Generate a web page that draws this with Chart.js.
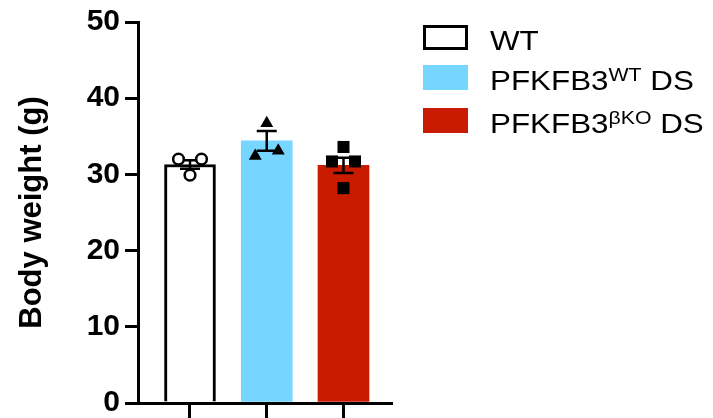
<!DOCTYPE html>
<html>
<head>
<meta charset="utf-8">
<script src="https://cdn.jsdelivr.net/npm/chart.js@4.4.1/dist/chart.umd.min.js"></script>
<style>
body { margin: 0; background: #fff; }
#wrap { position: relative; width: 713px; height: 418px; overflow: hidden; }
canvas { display: block; }
.legend { position: absolute; left: 423px; top: 0; font-family: "Liberation Sans", Arial, sans-serif; font-size: 28px; color: #000; }
.row { position: absolute; left: 0; height: 25px; display: flex; align-items: center; white-space: nowrap; }
.box { width: 45px; height: 25px; box-sizing: border-box; margin-right: 22px; }
.txt { position: relative; top: 3px; display: inline-block; transform: scaleX(1.12); transform-origin: left center; }
.txt sup { font-size: 19px; vertical-align: 9px; line-height: 0; }
</style>
</head>
<body>
<div id="wrap">
  <canvas id="chart" width="713" height="418"></canvas>
  <div class="legend" id="legend"></div>
</div>
<script>
// data
var categories = ["WT", "PFKFB3WT DS", "PFKFB3βKO DS"];
var groupPos = [1, 2, 3];
var means = [31.3, 34.4, 31.2];
var sems = [0.55, 1.3, 1.0];
var wtValues = [32.0, 29.9, 32.0];
var wtJitter = [-0.15, 0, 0.15];
var dsWtValues = [32.4, 36.7, 33.1];
var dsWtJitter = [-0.15, 0, 0.15];
var dsKoValues = [31.7, 33.6, 28.2, 31.7];
var dsKoJitter = [-0.15, 0, 0, 0.15];
var yTicks = [0, 10, 20, 30, 40, 50];

var barColors = ["#ffffff", "#76d6ff", "#c81b00"];
var barBorders = ["#000000", "#76d6ff", "#c81b00"];

function points(values, jitter, g) {
    return values.map(function (v, i) { return { x: groupPos[g] + jitter[i], y: v }; });
}

// error bars drawn right after the bars, below the dots
var errorBars = {
    id: "errorBars",
    afterDatasetDraw: function (chart, args) {
        if (args.index !== 0) return;
        var ctx = chart.ctx, xs = chart.scales.x, ys = chart.scales.y;
        ctx.save();
        ctx.strokeStyle = "#000";
        ctx.lineWidth = 2.5;
        means.forEach(function (m, i) {
            var px = xs.getPixelForValue(groupPos[i]);
            var top = ys.getPixelForValue(m + sems[i]);
            var bot = ys.getPixelForValue(m - sems[i]);
            ctx.beginPath();
            ctx.moveTo(px, top); ctx.lineTo(px, bot);
            ctx.moveTo(px - 10, top); ctx.lineTo(px + 10, top);
            ctx.moveTo(px - 10, bot); ctx.lineTo(px + 10, bot);
            ctx.stroke();
        });
        ctx.restore();
    }
};

var config = {
    type: "bar",
    data: {
        datasets: [{
            label: "mean",
            order: 10,
            data: means.map(function (m, i) { return { x: groupPos[i], y: m }; }),
            backgroundColor: barColors,
            borderColor: barBorders,
            borderWidth: [3, 0, 0],
            barThickness: 51
        }, {
            type: "scatter",
            label: categories[0],
            order: 0,
            data: points(wtValues, wtJitter, 0),
            pointStyle: "circle",
            pointRadius: 5.3,
            borderWidth: 2.5,
            borderColor: "#000",
            backgroundColor: "#fff"
        }, {
            type: "scatter",
            label: categories[1],
            order: 0,
            data: points(dsWtValues, dsWtJitter, 1),
            pointStyle: "triangle",
            pointRadius: 7.5,
            borderWidth: 0,
            backgroundColor: "#000"
        }, {
            type: "scatter",
            label: categories[2],
            order: 0,
            data: points(dsKoValues, dsKoJitter, 2),
            pointStyle: "rect",
            pointRadius: 8.5,
            borderWidth: 0,
            backgroundColor: "#000"
        }]
    },
    options: {
        responsive: false,
        animation: false,
        layout: { padding: { top: 22, right: 322, bottom: 0, left: 0 } },
        plugins: { legend: { display: false }, tooltip: { enabled: false } },
        scales: {
            x: {
                type: "linear",
                min: 0.3225,
                max: 3.619,
                offset: false,
                afterBuildTicks: function (s) { s.ticks = groupPos.map(function (v) { return { value: v }; }); },
                ticks: { display: false },
                grid: { offset: false, drawOnChartArea: false, drawTicks: true, tickLength: 15, color: "#000", lineWidth: 3 },
                border: { color: "#000", width: 3 },
                afterFit: function (s) { s.height = 15; }
            },
            y: {
                min: 0,
                max: 50,
                afterBuildTicks: function (s) { s.ticks = yTicks.map(function (v) { return { value: v }; }); },
                ticks: { color: "#000", padding: 5, font: { family: "Liberation Sans", size: 30, weight: "bold", lineHeight: 0.6 } },
                grid: { drawOnChartArea: false, tickLength: 13, color: "#000", lineWidth: 3 },
                border: { color: "#000", width: 3 },
                title: {
                    display: true,
                    text: "Body weight (g)",
                    color: "#000",
                    font: { family: "Liberation Sans", size: 31, weight: "bold" },
                    padding: { top: 14, bottom: 0 }
                },
                afterFit: function (s) { s.width = 138; }
            }
        }
    },
    plugins: [errorBars]
};

var bodyChart = new Chart(document.getElementById("chart"), config);

// legend with superscripts as html text
var legendRows = [
    { top: 25, fill: "#ffffff", border: "3px solid #000", html: "WT" },
    { top: 65, fill: barColors[1], border: "none", html: "PFKFB3<sup>WT</sup> DS" },
    { top: 108, fill: barColors[2], border: "none", html: "PFKFB3<sup>βKO</sup> DS" }
];
var legend = document.getElementById("legend");
legendRows.forEach(function (r) {
    var row = document.createElement("div");
    row.className = "row";
    row.style.top = r.top + "px";
    row.innerHTML = '<div class="box" style="background:' + r.fill + ';border:' + r.border + '"></div><span class="txt">' + r.html + '</span>';
    legend.appendChild(row);
});
</script>
</body>
</html>
